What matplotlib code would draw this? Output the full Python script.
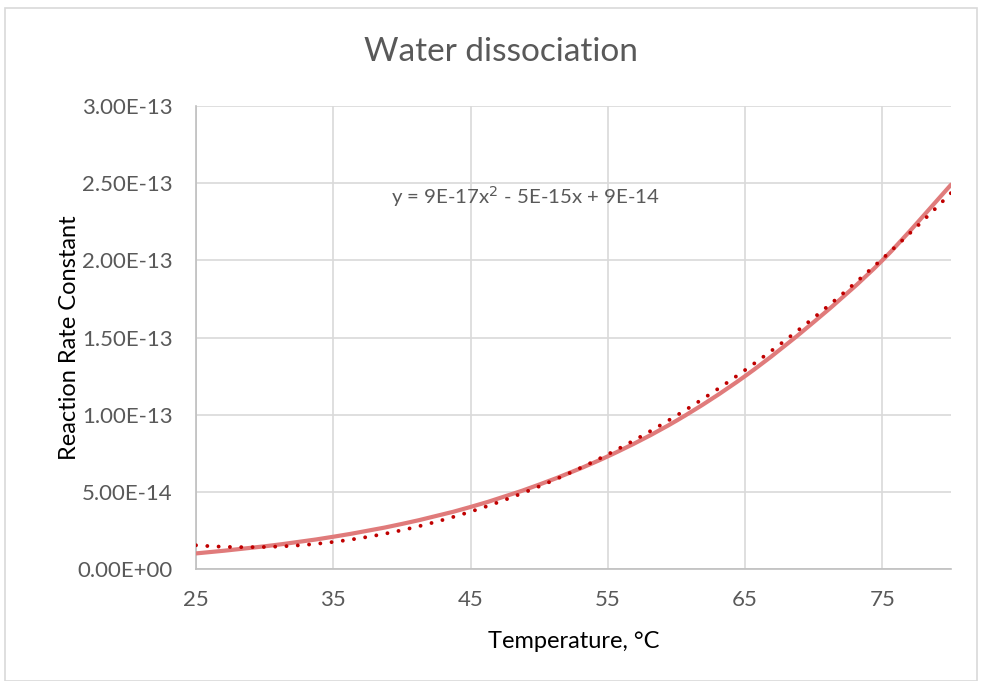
import matplotlib
matplotlib.use('Agg')
from matplotlib import pyplot as plt
from matplotlib.patches import Rectangle, PathPatch
from matplotlib.path import Path
from matplotlib.ticker import FuncFormatter
import numpy as np

# ion product of water against temperature
temperature = [25, 30, 35, 40, 45, 50, 55, 60, 65, 70, 75, 80]
rate_constant = [1.01e-14, 1.47e-14, 2.09e-14, 2.92e-14, 4.02e-14, 5.47e-14,
                 7.30e-14, 9.61e-14, 1.25e-13, 1.60e-13, 2.00e-13, 2.49e-13]
x_ticks = [25, 35, 45, 55, 65, 75]
y_ticks = [0, 0.5e-13, 1.0e-13, 1.5e-13, 2.0e-13, 2.5e-13, 3.0e-13]

grey = '#595959'
plt.rcParams['font.family'] = ['Lato', 'DejaVu Sans']


def smooth_path(x, y, k=1/6):
    # cubic bezier through the points (catmull-rom style tangents)
    pts = np.column_stack([x, y])
    verts = [pts[0]]
    codes = [Path.MOVETO]
    n = len(pts)
    for i in range(n - 1):
        p0 = pts[max(i - 1, 0)]
        p1 = pts[i]
        p2 = pts[i + 1]
        p3 = pts[min(i + 2, n - 1)]
        verts += [p1 + (p2 - p0) * k, p2 - (p3 - p1) * k, p2]
        codes += [Path.CURVE4] * 3
    return Path(verts, codes)


fig = plt.figure(figsize=(9.82, 6.81), dpi=100)
fig.patches.append(Rectangle((5/982, 0), 972/982, 1-8/681, transform=fig.transFigure,
                             fill=False, edgecolor='#d9d9d9', linewidth=1.2))
ax = fig.add_axes([196/982, 1-569/681, 755/982, 463/681])

ax.add_patch(PathPatch(smooth_path(temperature, rate_constant), facecolor='none',
                       edgecolor='#e07b7b', linewidth=3, capstyle='round', zorder=3))

# second order trendline
coef = np.polyfit(temperature, rate_constant, 2)
xs = np.linspace(25, 80, 300)
ax.plot(xs, np.polyval(coef, xs), color='#c00000', linewidth=2.8,
        linestyle=(0, (0.01, 2.9)), dash_capstyle='round', zorder=4)

ax.set_xlim(25, 80)
ax.set_ylim(0, 3.0e-13)
ax.set_xticks(x_ticks)
ax.set_yticks(y_ticks)
ax.yaxis.set_major_formatter(FuncFormatter(lambda v, p: '%.2E' % v))
ax.grid(True, color='#d9d9d9', linewidth=1.2)
ax.set_axisbelow(True)
for s in ['top', 'right']:
    ax.spines[s].set_visible(False)
for s in ['left', 'bottom']:
    ax.spines[s].set_color('#bfbfbf')
    ax.spines[s].set_linewidth(1.2)
ax.tick_params(length=0, labelsize=16, labelcolor=grey)
ax.tick_params(axis='y', pad=17)
ax.tick_params(axis='x', pad=15)

fig.text(501/982, 1-52/681, 'Water dissociation', fontsize=24, color=grey,
         ha='center', va='center')
ax.set_xlabel('Temperature, °C', fontsize=17, color='black', labelpad=15)
ax.set_ylabel('Reaction Rate Constant', fontsize=17, color='black', labelpad=-2)

eq = 'y = %dE-17x$^2$ - %dE-15x + %dE-14' % (round(coef[0]/1e-17), round(-coef[1]/1e-15), round(coef[2]/1e-14))
ax.text(39.2, 2.415e-13, eq, fontsize=14.7, color=grey, va='center', ha='left')

fig.savefig('out.png', dpi=100)
